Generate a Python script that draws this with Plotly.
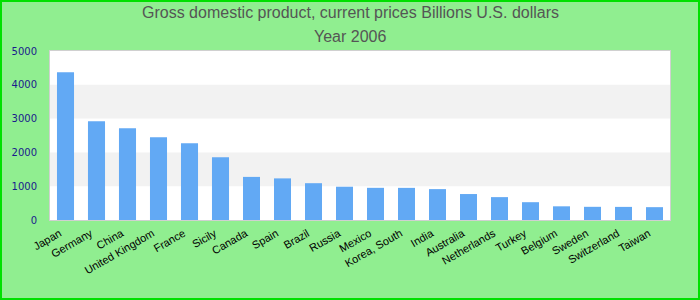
import plotly.graph_objects as go

countries = ["Japan", "Germany", "China", "United Kingdom", "France", "Sicily", "Canada",
             "Spain", "Brazil", "Russia", "Mexico", "Korea, South", "India", "Australia",
             "Netherlands", "Turkey", "Belgium", "Sweden", "Switzerland", "Taiwan"]
gdp = [4368, 2920, 2713, 2445, 2270, 1860, 1275, 1231, 1089, 985, 952, 951, 914, 768,
       677, 527, 405, 390, 388, 380]
y_ticks = [0, 1000, 2000, 3000, 4000, 5000]
bands = [(1000, 2000), (3000, 4000)]
title_lines = ["Gross domestic product, current prices Billions U.S. dollars", "Year 2006"]

W, H = 700, 300
ml, mr, mt, mb = 50, 30, 51, 80
pw, ph = W - ml - mr, H - mt - mb

fig = go.Figure(go.Bar(x=countries, y=gdp, marker=dict(color="#62a9f4", line=dict(width=0))))

shapes = []
for lo, hi in bands:
    shapes.append(dict(type="rect", xref="paper", yref="y", x0=0, x1=1, y0=lo, y1=hi,
                       fillcolor="#f2f2f2", line=dict(width=0), layer="below"))
# outer border of the chart
shapes.append(dict(type="rect", xref="paper", yref="paper",
                   x0=(-ml + 1) / pw, x1=1 + (mr - 1) / pw,
                   y0=(-mb + 1) / ph, y1=1 + (mt - 1) / ph,
                   line=dict(color="#00e000", width=2), fillcolor="rgba(0,0,0,0)"))

annotations = []
for text, ypx in zip(title_lines, [13, 36]):
    annotations.append(dict(text=text, showarrow=False, xref="paper", yref="paper",
                            x=(W / 2 - ml) / pw, xanchor="center",
                            y=1 + (mt - ypx) / ph, yanchor="middle",
                            font=dict(family="Liberation Sans, Arial", size=16, color="#555555")))

fig.update_layout(
    width=W, height=H,
    margin=dict(l=ml, r=mr, t=mt, b=mb),
    paper_bgcolor="#90EE90", plot_bgcolor="white",
    bargap=0.45,
    showlegend=False,
    shapes=shapes,
    annotations=annotations,
    xaxis=dict(tickangle=-30, tickfont=dict(family="Liberation Sans, Arial", size=11, color="black"),
               showline=True, mirror=True, linecolor="#d0d0d0", linewidth=1,
               showgrid=False, ticks="", ticklabelshift=-6, ticklabelstandoff=2),
    yaxis=dict(range=[0, 5000], tickvals=y_ticks, showgrid=False, zeroline=False,
               tickfont=dict(family="DejaVu Sans", size=10, color="#1a1a8c"),
               showline=True, mirror=True, linecolor="#d0d0d0", linewidth=1,
               ticks="", ticklabelstandoff=10),
)

fig.write_html("out.html")
